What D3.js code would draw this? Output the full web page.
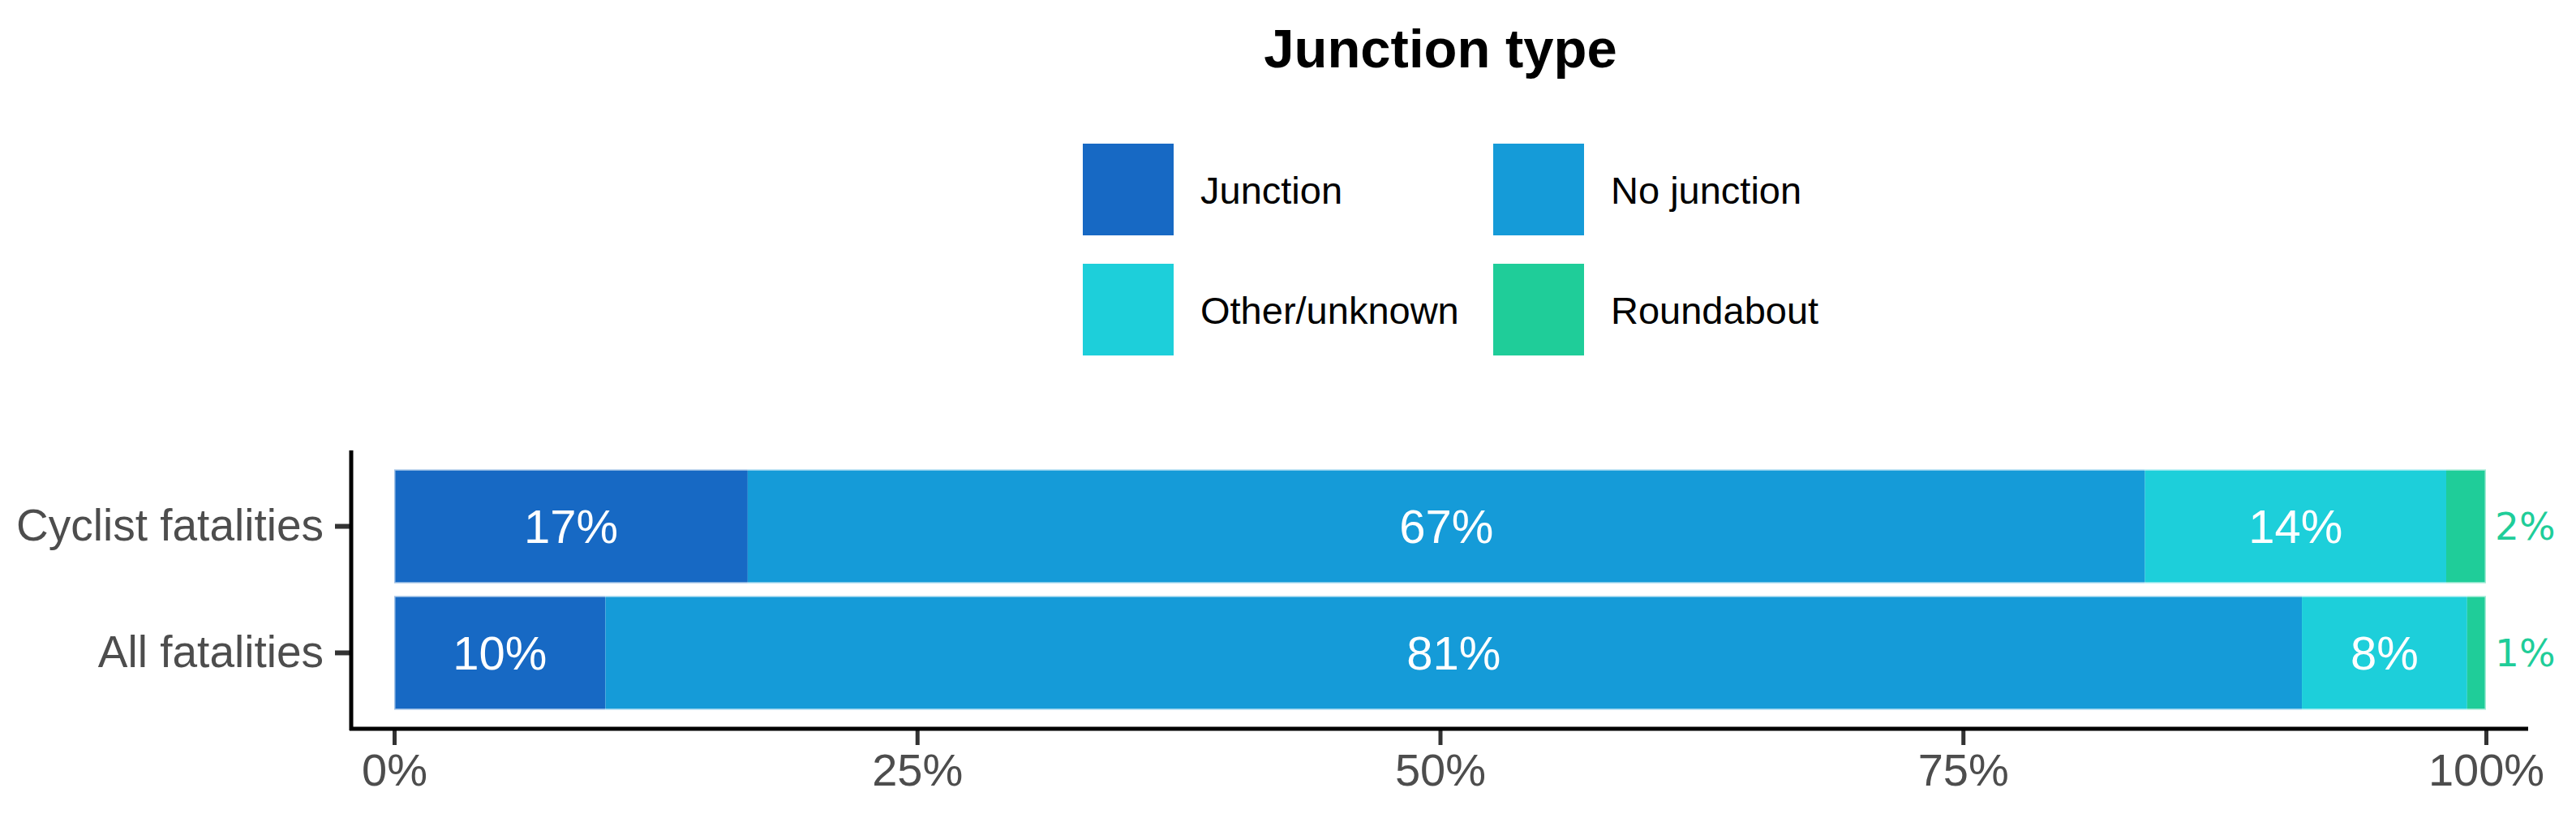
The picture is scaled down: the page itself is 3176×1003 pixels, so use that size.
<!DOCTYPE html>
<html>
<head>
<script src="https://d3js.org/d3.v7.min.js"></script>
<style>
  body { margin: 0; background: #fff; }
</style>
</head>
<body>
<div id="chart"></div>
<script>
var width = 3176;
var height = 1003;

// data (percent of fatalities)
var categories = ["Cyclist fatalities", "All fatalities"];
var junctionTypes = ["Junction", "No junction", "Other/unknown", "Roundabout"];
var junction = [16.9, 10.1];
var noJunction = [66.8, 81.1];
var otherUnknown = [14.4, 7.9];
var roundabout = [1.9, 0.9];
var xTicks = [0, 25, 50, 75, 100];
var colours = ["#1769c4", "#159bd8", "#1dcfda", "#1fcd99"];

var rows = categories.map(function (c, i) {
  return {
    category: c,
    "Junction": junction[i],
    "No junction": noJunction[i],
    "Other/unknown": otherUnknown[i],
    "Roundabout": roundabout[i]
  };
});

var svg = d3.select("#chart")
  .append("svg")
  .attr("width", width)
  .attr("height", height)
  .style("font-family", "'Liberation Sans', Arial, sans-serif");

var x = d3.scaleLinear().domain([0, 100]).range([486, 3065]);
var y = d3.scaleBand().domain(categories).range([555, 898])
  .paddingInner(0.1).paddingOuter(0.15);
var colour = d3.scaleOrdinal().domain(junctionTypes).range(colours);

var series = d3.stack().keys(junctionTypes)(rows);

// bars
var layer = svg.append("g")
  .selectAll("g")
  .data(series)
  .enter().append("g")
  .attr("fill", function (d) { return colour(d.key); });

layer.selectAll("rect")
  .data(function (d) { return d; })
  .enter().append("rect")
  .attr("x", function (d) { return x(d[0]); })
  .attr("y", function (d) { return y(d.data.category); })
  .attr("width", function (d) { return x(d[1]) - x(d[0]); })
  .attr("height", y.bandwidth());

// outline round each whole bar
svg.append("g").selectAll("rect")
  .data(categories)
  .enter().append("rect")
  .attr("x", x(0))
  .attr("y", function (d) { return y(d); })
  .attr("width", x(100) - x(0))
  .attr("height", y.bandwidth())
  .attr("fill", "none")
  .attr("stroke", "#ffffff")
  .attr("stroke-opacity", 0.6)
  .attr("stroke-width", 3);

// value labels
series.forEach(function (s) {
  var outside = s.key === "Roundabout";
  svg.append("g").selectAll("text")
    .data(s)
    .enter().append("text")
    .attr("x", function (d) { return outside ? x(d[1]) + 11 : (x(d[0]) + x(d[1])) / 2; })
    .attr("y", function (d) { return y(d.data.category) + y.bandwidth() / 2; })
    .attr("dy", "0.36em")
    .attr("text-anchor", outside ? "start" : "middle")
    .style("font-family", outside ? "'DejaVu Sans', sans-serif" : null)
    .style("font-size", outside ? "47px" : "58px")
    .attr("fill", outside ? colour(s.key) : "#ffffff")
    .text(function (d) { return Math.round(d[1] - d[0]) + "%"; });
});

// axes
var xAxis = svg.append("g")
  .attr("transform", "translate(0,898)")
  .call(d3.axisBottom(x).tickValues(xTicks).tickSize(20).tickPadding(10)
    .tickFormat(function (d) { return d + "%"; }));
xAxis.select(".domain").remove();
xAxis.selectAll(".tick line").attr("stroke", "#333").attr("stroke-width", 5);
xAxis.selectAll(".tick text")
  .attr("fill", "#4d4d4d")
  .style("font-size", "56px")
  .style("font-family", "'Liberation Sans', Arial, sans-serif");

var yAxis = svg.append("g")
  .attr("transform", "translate(433,0)")
  .call(d3.axisLeft(y).tickSize(20).tickPadding(14));
yAxis.select(".domain").remove();
yAxis.selectAll(".tick line").attr("stroke", "#333").attr("stroke-width", 6);
yAxis.selectAll(".tick text")
  .attr("fill", "#4d4d4d")
  .style("font-size", "55px")
  .style("font-family", "'Liberation Sans', Arial, sans-serif");

var axisLeft = x.invert(433);
var axisRight = x.invert(3117);
svg.append("line")
  .attr("x1", x(axisLeft)).attr("x2", x(axisLeft))
  .attr("y1", y.range()[0]).attr("y2", y.range()[1] + 2)
  .attr("stroke", "#000").attr("stroke-width", 5);
svg.append("line")
  .attr("x1", x(axisLeft) - 2).attr("x2", x(axisRight))
  .attr("y1", y.range()[1]).attr("y2", y.range()[1])
  .attr("stroke", "#000").attr("stroke-width", 5);

// legend
svg.append("text")
  .attr("x", 1776)
  .attr("y", 83)
  .attr("text-anchor", "middle")
  .style("font-size", "67px")
  .style("font-weight", "bold")
  .attr("fill", "#000")
  .text("Junction type");

var legend = svg.append("g").selectAll("g")
  .data(junctionTypes)
  .enter().append("g")
  .attr("transform", function (d, i) {
    return "translate(" + (1335 + (i % 2) * 506) + "," + (177 + Math.floor(i / 2) * 148) + ")";
  });

legend.append("rect")
  .attr("width", 112)
  .attr("height", 113)
  .attr("fill", function (d) { return colour(d); });

legend.append("text")
  .attr("x", 145)
  .attr("y", 57)
  .attr("dy", "0.36em")
  .style("font-size", "47px")
  .attr("fill", "#000")
  .text(function (d) { return d; });
</script>
</body>
</html>
